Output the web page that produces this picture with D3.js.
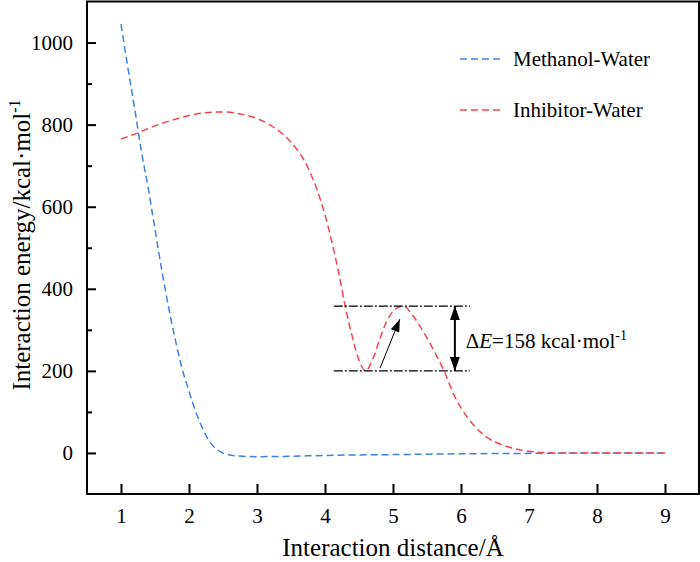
<!DOCTYPE html>
<html>
<head>
<meta charset="utf-8">
<script src="https://cdn.jsdelivr.net/npm/d3@7"></script>
<style>
    body { margin: 0; background: white; }
    svg text { font-family: 'Times New Roman', 'Liberation Serif', 'DejaVu Serif', serif; fill: black; }
</style>
</head>
<body>
<svg id="chart"></svg>
<script>

//methanol-water curve, distance (A) and energy (kcal/mol)
var methanolX = [1.0, 1.1, 1.2, 1.3, 1.4, 1.5, 1.6, 1.7, 1.8, 1.9, 2.0, 2.1, 2.2, 2.3, 2.4, 2.5, 2.7, 3.0, 3.5, 4.0, 5.0, 6.0, 7.0, 8.0, 9.0];
var methanolY = [1045, 940, 840, 735, 645, 545, 445, 355, 275, 205, 150, 100, 60, 28, 10, 0, -7, -9, -8, -6, -4, -2, -1, 0, 0];

//inhibitor-water curve
var inhibitorX = [1.0, 1.25, 1.5, 1.75, 2.0, 2.25, 2.5, 2.75, 3.0, 3.25, 3.5, 3.75, 4.0, 4.1, 4.2, 4.3, 4.4, 4.5, 4.6, 4.7, 4.8, 4.9, 5.0, 5.15, 5.3, 5.4, 5.5, 5.6, 5.75, 5.9, 6.0, 6.2, 6.4, 6.6, 6.8, 7.0, 7.25, 7.5, 8.0, 9.0];
var inhibitorY = [765, 780, 797, 811, 822, 829, 831, 826, 815, 793, 757, 695, 580, 515, 440, 355, 284, 226, 200, 228, 275, 318, 345, 358, 333, 308, 280, 250, 200, 140, 110, 65, 36, 20, 10, 4, 1, 0, 0, 0];

var seriesNames = ['Methanol-Water', 'Inhibitor-Water'];
var seriesColors = ['#3d80e6', '#f2454f'];

var xTicks = [1, 2, 3, 4, 5, 6, 7, 8, 9];
var yTicks = [0, 200, 400, 600, 800, 1000];
var yMinorTicks = [100, 300, 500, 700, 900];

//barrier annotation: top and bottom energy, line span, arrow
var barrierLevels = [358, 200];
var barrierSpan = [4.13, 6.13];
var barrierArrowX = 5.91;
var pointerArrow = [[4.81, 207], [5.10, 326]];
var barrierLabelPos = [6.07, 256];

var width = 700,
    height = 562;
var serif = "'Times New Roman', 'Liberation Serif', 'DejaVu Serif', serif";

var svg = d3.select('#chart')
    .attr('width', width)
    .attr('height', height);

var x = d3.scaleLinear().domain([0.5, 9.5]).range([87, 699]);
var y = d3.scaleLinear().domain([-100, 1100]).range([494, 1.5]);

//arrow heads
var defs = svg.append('defs');
defs.append('marker')
    .attr('id', 'headBig')
    .attr('viewBox', '0 0 14 10')
    .attr('refX', 14)
    .attr('refY', 5)
    .attr('markerWidth', 14)
    .attr('markerHeight', 10)
    .attr('markerUnits', 'userSpaceOnUse')
    .attr('orient', 'auto-start-reverse')
    .append('path')
    .attr('d', 'M0,0 L14,5 L0,10 Z')
    .attr('fill', 'black');
defs.append('marker')
    .attr('id', 'headSmall')
    .attr('viewBox', '0 0 14 10')
    .attr('refX', 14)
    .attr('refY', 5)
    .attr('markerWidth', 14)
    .attr('markerHeight', 9)
    .attr('markerUnits', 'userSpaceOnUse')
    .attr('orient', 'auto')
    .append('path')
    .attr('d', 'M0,0 L14,5 L0,10 Z')
    .attr('fill', 'black');

//curves
var line = d3.line()
    .x(function(d) {return x(d[0]);})
    .y(function(d) {return y(d[1]);})
    .curve(d3.curveMonotoneX);

var series = [
    d3.zip(methanolX, methanolY),
    d3.zip(inhibitorX, inhibitorY)
];

svg.append('g')
    .attr('class', 'curves')
    .selectAll('path')
    .data(series)
    .join('path')
    .attr('d', line)
    .attr('fill', 'none')
    .attr('stroke', function(d, i) {return seriesColors[i];})
    .attr('stroke-width', 1.5)
    .attr('stroke-dasharray', '7,4');

//barrier annotation
var annot = svg.append('g').attr('class', 'annotation');

annot.selectAll('line.level')
    .data(barrierLevels)
    .join('line')
    .attr('class', 'level')
    .attr('x1', x(barrierSpan[0]))
    .attr('x2', x(barrierSpan[1]))
    .attr('y1', function(d) {return y(d);})
    .attr('y2', function(d) {return y(d);})
    .attr('stroke', 'black')
    .attr('stroke-width', 1.3)
    .attr('stroke-dasharray', '9,2,2,2');

annot.append('line')
    .attr('x1', x(barrierArrowX))
    .attr('x2', x(barrierArrowX))
    .attr('y1', y(barrierLevels[0]))
    .attr('y2', y(barrierLevels[1]))
    .attr('stroke', 'black')
    .attr('stroke-width', 2)
    .attr('marker-start', 'url(#headBig)')
    .attr('marker-end', 'url(#headBig)');

annot.append('line')
    .attr('x1', x(pointerArrow[0][0]))
    .attr('y1', y(pointerArrow[0][1]))
    .attr('x2', x(pointerArrow[1][0]))
    .attr('y2', y(pointerArrow[1][1]))
    .attr('stroke', 'black')
    .attr('stroke-width', 1)
    .attr('marker-end', 'url(#headSmall)');

var label = annot.append('text')
    .attr('x', x(barrierLabelPos[0]))
    .attr('y', y(barrierLabelPos[1]))
    .attr('font-family', serif)
    .attr('font-size', '21px');
label.append('tspan').text('\u0394');
label.append('tspan').attr('font-style', 'italic').text('E');
label.append('tspan').text('=158 kcal\u00b7mol');
label.append('tspan')
    .attr('font-size', '14px')
    .attr('dy', '-8')
    .text('-1');

//axes, ticks pointing inwards
var axisG = svg.append('g').attr('class', 'axes');

axisG.append('g')
    .attr('transform', 'translate(0,' + y(-100) + ')')
    .call(d3.axisBottom(x).tickValues(xTicks).tickSize(-10).tickPadding(14).tickFormat(d3.format('d')));

axisG.append('g')
    .attr('transform', 'translate(' + x(0.5) + ',0)')
    .call(d3.axisLeft(y).tickValues(yTicks).tickSize(-9).tickPadding(14).tickFormat(d3.format('d')));

axisG.append('g')
    .attr('transform', 'translate(' + x(0.5) + ',0)')
    .call(d3.axisLeft(y).tickValues(yMinorTicks).tickSize(-5).tickFormat(''));

axisG.selectAll('.domain').remove();
axisG.selectAll('.tick line')
    .attr('stroke', 'black')
    .attr('stroke-width', 2);
axisG.selectAll('g')
    .attr('font-family', serif)
    .attr('font-size', '21px');
axisG.selectAll('.tick text')
    .attr('fill', 'black');

//frame
svg.append('rect')
    .attr('x', x(0.5))
    .attr('y', y(1100))
    .attr('width', x(9.5) - x(0.5))
    .attr('height', y(-100) - y(1100))
    .attr('fill', 'none')
    .attr('stroke', 'black')
    .attr('stroke-width', 2);

//axis titles
svg.append('text')
    .attr('x', 393)
    .attr('y', 556)
    .attr('text-anchor', 'middle')
    .attr('font-family', serif)
    .attr('font-size', '25px')
    .text('Interaction distance/\u00c5');

var yTitle = svg.append('text')
    .attr('transform', 'translate(30,245) rotate(-90)')
    .attr('text-anchor', 'middle')
    .attr('font-family', serif)
    .attr('font-size', '25px');
yTitle.append('tspan').text('Interaction energy/kcal\u00b7mol');
yTitle.append('tspan')
    .attr('font-size', '16px')
    .attr('dy', '-10')
    .text('-1');

//legend
var legend = svg.append('g')
    .attr('class', 'legend')
    .selectAll('g')
    .data(seriesNames)
    .join('g')
    .attr('transform', function(d, i) {return 'translate(460,' + (59 + i * 51) + ')';});

legend.append('line')
    .attr('x1', 0)
    .attr('x2', 42)
    .attr('stroke', function(d, i) {return seriesColors[i];})
    .attr('stroke-width', 1.5)
    .attr('stroke-dasharray', '7,4');

legend.append('text')
    .attr('x', 53)
    .attr('y', 7)
    .attr('font-family', serif)
    .attr('font-size', '21px')
    .text(function(d) {return d;});

</script>
</body>
</html>
